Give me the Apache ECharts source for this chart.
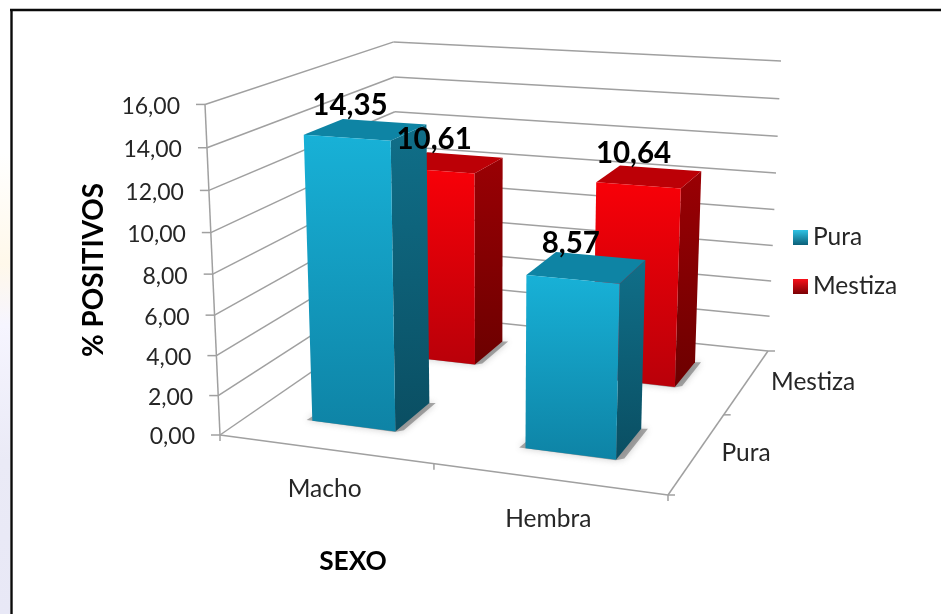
<!DOCTYPE html>
<html><head><meta charset="utf-8">
<style>html,body{margin:0;padding:0;background:#fff}#c{width:941px;height:614px}</style>
<script src="https://cdn.jsdelivr.net/npm/echarts@6/dist/echarts.min.js"></script>
</head><body><div id="c"></div>
<script>
const categories = ['Macho', 'Hembra'];
const depthLabels = ['Pura', 'Mestiza'];
const yTicks = [0, 2, 4, 6, 8, 10, 12, 14, 16];
const pura = [14.35, 8.57];
const mestiza = [10.61, 10.64];

const FONT = 'Lato';
const fmt = v => v.toFixed(2).replace('.', ',');
// perspective projection of the plot box (u along sexo, v into depth, t up)
const H = {a:390.63,b:271.14,c:220,d:17.49,e:-49.49,f:435,g:-0.08588,h:0.23402,vx:-25.66,vy:-336,vw:-0.052};
function proj(u,v,t){
  const w = H.g*u+H.h*v+1+t*H.vw;
  return [(H.a*u+H.b*v+H.c+t*H.vx)/w,(H.d*u+H.e*v+H.f+t*H.vy)/w];
}
const lg = (c0,c1,x2=0,y2=1)=>new echarts.graphic.LinearGradient(0,0,x2,y2,[{offset:0,color:c0},{offset:1,color:c1}]);
const GRID='#a0a0a0';
const line = (p,q,w=1.5)=>({type:'line',shape:{x1:p[0],y1:p[1],x2:q[0],y2:q[1]},style:{stroke:GRID,lineWidth:w}});
const norm = (params,pt)=>{const s=params.coordSys;return [(pt[0]-s.x)/s.width,(s.y+s.height-pt[1])/s.height];};

const barColors = {
  Pura:{front:['#18B1D7','#0E83A5'],side:['#106F89','#0A4E62'],top:'#0E84A4'},
  Mestiza:{front:['#F80008','#B90009'],side:['#9A0004','#6C0000'],top:'#BC0006'}
};
function barSeries(name,values,depth){
  const col=barColors[name];
  return {
    type:'custom',name,coordinateSystem:'cartesian2d',z:3+(1-depth),
    data:values.map((v,i)=>[i,v]),
    itemStyle:{color:col.front[0]},
    renderItem(params,api){
      const [u,t0]=norm(params,api.coord([api.value(0),api.value(1)]));
      const t=t0-0.008; // soft bevel of the bar top
      const band=api.size([1,0])[0]/params.coordSys.width;
      const hw=band*0.2, vc=(depth+0.5)/2, hd=0.1;
      const u0=u-hw,u1=u+hw,v0=vc-hd,v1=vc+hd;
      const P=(a,b,c)=>proj(a,b,c);
      const e=0.014;
      return {type:'group',children:[
        {type:'polygon',shape:{points:[P(u0-e,v0,0),P(u1,v0-e*0.2,0),P(u1+e,v0+e,0),P(u1+e,v1+e*0.3,0),P(u1,v1,0),P(u0,v1,0)]},
         style:{fill:'rgba(100,100,100,0.55)',shadowBlur:7,shadowColor:'rgba(100,100,100,0.6)'}},
        {type:'polygon',shape:{points:[P(u1,v0,0),P(u1,v1,0),P(u1,v1,t),P(u1,v0,t)]},style:{fill:lg(col.side[0],col.side[1])}},
        {type:'polygon',shape:{points:[P(u0,v0,t),P(u1,v0,t),P(u1,v1,t),P(u0,v1,t)]},style:{fill:col.top}},
        {type:'polygon',shape:{points:[P(u0,v0,0),P(u1,v0,0),P(u1,v0,t),P(u0,v0,t)]},style:{fill:lg(col.front[0],col.front[1])}}
      ]};
    }
  };
}
const wallSeries={
  type:'custom',name:'grid',coordinateSystem:'cartesian2d',z:1,silent:true,
  data:yTicks.map(v=>[0,v]),
  renderItem(params,api){
    const tick=api.value(1);
    const [,t]=norm(params,api.coord([0,tick]));
    const a=proj(0,0,t),b=proj(0,1,t),c=proj(1,1,t);
    const kids=[
      line([a[0]-9,a[1]],a),
      {type:'text',style:{x:a[0]-25,y:a[1]+2,text:fmt(tick),align:'right',verticalAlign:'middle',font:'23px '+FONT,fill:'#262626'}}
    ];
    if(tick>0){kids.push(line(a,b),line(b,c));}
    return {type:'group',children:kids};
  }
};
const frameSeries={
  type:'custom',name:'axes',coordinateSystem:'cartesian2d',z:2,silent:true,
  data:[[0,0]],
  renderItem(){
    const k=(u,v)=>proj(u,v,0);
    const p=[k(0,0),k(1,0),k(1,1),k(0,1),k(0.5,0),k(1,0.5)];
    const top=proj(0,0,1);
    const down=(q,n)=>line(q,[q[0],q[1]+n]);
    const right=(q,n)=>line(q,[q[0]+n,q[1]]);
    return {type:'group',children:[
      line(p[0],top),line(p[0],p[1]),line(p[1],p[2]),line(p[2],p[3]),line(p[3],p[0]),
      down(p[0],6),down(p[4],6),down(p[1],6),right(p[1],7),right(p[5],7),right(p[2],7)
    ]};
  }
};
const catLabelSeries={
  type:'custom',name:'catLabels',coordinateSystem:'cartesian2d',z:2,silent:true,
  data:categories.map((c,i)=>[i,0]),
  renderItem(params,api){
    const [u]=norm(params,api.coord([api.value(0),0]));
    const q=proj(u,0,0);
    return {type:'text',style:{x:q[0],y:q[1]+40,text:categories[api.value(0)],align:'center',verticalAlign:'middle',font:'24.5px '+FONT,fill:'#262626'}};
  }
};
const depthLabelSeries={
  type:'custom',name:'depthLabels',coordinateSystem:'cartesian2d',z:2,silent:true,
  data:depthLabels.map((c,i)=>[0,i]),
  renderItem(params,api){
    const i=api.value(1);
    const q=proj(1,(i+0.5)/2,0);
    return {type:'text',style:{x:q[0]+24,y:q[1]+1,text:depthLabels[i],align:'left',verticalAlign:'middle',font:'24.5px '+FONT,fill:'#262626'}};
  }
};
const valueLabelSeries={
  type:'custom',name:'valueLabels',coordinateSystem:'cartesian2d',z:10,silent:true,
  data:[].concat(mestiza.map((v,i)=>[i,v,1]),pura.map((v,i)=>[i,v,0])),
  renderItem(params,api){
    const [u,t]=norm(params,api.coord([api.value(0),api.value(1)]));
    const q=proj(u,(api.value(2)+0.5)/2,t);
    return {type:'text',style:{x:q[0]-16,y:q[1]-21,text:fmt(api.value(1)),align:'center',verticalAlign:'middle',font:'bold 29.5px '+FONT,fill:'#000'}};
  }
};

const chart=echarts.init(document.getElementById('c'),null,{renderer:'canvas'});
chart.setOption({
  animation:false,
  backgroundColor:'#fff',
  grid:{left:100,right:100,top:50,bottom:50,show:false},
  xAxis:{type:'category',data:categories,show:false},
  yAxis:{type:'value',min:0,max:16,interval:2,show:false},
  legend:{
    orient:'vertical',left:788,top:220,itemWidth:15,itemHeight:15,itemGap:24,
    textStyle:{fontFamily:FONT,fontSize:24.5,color:'#262626'},
    icon:'rect',selectedMode:false,
    data:[
      {name:'Pura',itemStyle:{color:lg('#2FC3E4','#0B5F78')}},
      {name:'Mestiza',itemStyle:{color:lg('#F8101A','#7A0004')}}
    ]
  },
  graphic:[
    {type:'rect',z:0,shape:{x:0,y:0,width:10,height:614},silent:true,style:{fill:new echarts.graphic.LinearGradient(0,0,0,1,[
      {offset:0,color:'#ffffff'},{offset:0.25,color:'#ffffff'},{offset:0.43,color:'#fff8ea'},
      {offset:0.53,color:'#f6f5ff'},{offset:0.75,color:'#eaeaf6'},{offset:1,color:'#e8e8f6'}])}},
    {type:'line',z:100,shape:{x1:10,y1:10,x2:941,y2:10},style:{stroke:'#0a0a0a',lineWidth:2.4},silent:true},
    {type:'line',z:100,shape:{x1:11.5,y1:9,x2:11.5,y2:614},style:{stroke:'#0a0a0a',lineWidth:2.4},silent:true},
    {type:'text',z:100,x:94,y:270,rotation:Math.PI/2,silent:true,style:{x:0,y:0,text:'% POSITIVOS',align:'center',verticalAlign:'middle',font:'bold 27.8px '+FONT,fill:'#000'}},
    {type:'text',z:100,silent:true,style:{x:353,y:562,text:'SEXO',align:'center',verticalAlign:'middle',font:'bold 26.3px '+FONT,fill:'#000'}}
  ],
  series:[wallSeries,frameSeries,catLabelSeries,depthLabelSeries,
    barSeries('Mestiza',mestiza,1),barSeries('Pura',pura,0),valueLabelSeries]
});
</script></body></html>
